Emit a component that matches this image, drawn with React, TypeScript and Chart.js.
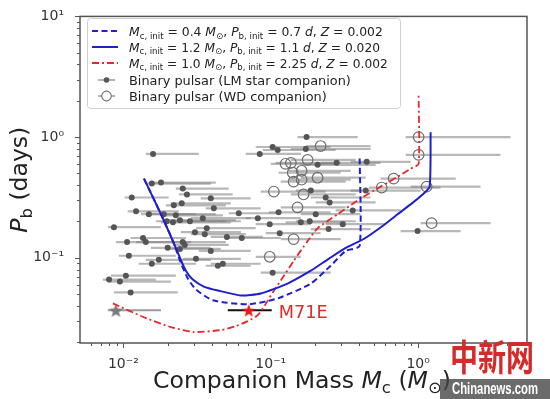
import React, { useEffect, useRef } from 'react';
import { Chart, registerables } from 'chart.js';
Chart.register(...registerables);

// Binary pulsars with low-mass (LM) star companions
const lmMass = [0.0159, 0.0156, 0.0180, 0.0253, 0.0270, 0.0114, 0.0392, 0.0220, 0.0249, 0.0411, 0.0122, 0.0149, 0.0188, 0.0227, 0.0607, 0.113, 0.0197, 0.0217, 0.0242, 0.0283, 0.0346, 0.0817, 0.0984, 0.00863, 0.0306, 0.0368, 0.0357, 0.0504, 0.0636, 0.115, 0.0106, 0.0136, 0.0142, 0.0253, 0.0261, 0.0200, 0.0242, 0.0392, 0.0109, 0.0174, 0.0311, 0.0156, 0.0438, 0.0473, 0.0104, 0.0080, 0.00947, 0.0112, 0.103, 0.175, 0.103, 0.1115, 0.173, 0.0842, 0.208, 0.280, 0.448, 0.187, 0.236, 0.251, 0.360, 0.202, 0.160, 0.184, 0.308, 0.247, 0.441, 0.992];
const lmPb = [0.726, 0.412, 0.420, 0.375, 0.335, 0.316, 0.311, 0.272, 0.283, 0.257, 0.243, 0.230, 0.230, 0.225, 0.234, 0.238, 0.201, 0.197, 0.205, 0.201, 0.213, 0.213, 0.190, 0.1795, 0.163, 0.176, 0.157, 0.149, 0.146, 0.160, 0.135, 0.146, 0.135, 0.135, 0.128, 0.121, 0.1185, 0.114, 0.104, 0.0963, 0.0981, 0.0893, 0.086, 0.0893, 0.0712, 0.066, 0.0636, 0.0517, 0.0753, 1.0, 0.828, 0.782, 0.797, 0.726, 0.590, 0.612, 0.624, 0.361, 0.316, 0.288, 0.247, 0.230, 0.197, 0.201, 0.190, 0.173, 0.361, 0.1665];
const lmMassLo = [0.0142, 0.0142, 0.0154, 0.0227, 0.0238, 0.0102, 0.0335, 0.0194, 0.0210, 0.0362, 0.0107, 0.0132, 0.0154, 0.0194, 0.0519, 0.0969, 0.0166, 0.0180, 0.0203, 0.0227, 0.0287, 0.0677, 0.0791, 0.00785, 0.0246, 0.0311, 0.0287, 0.0392, 0.0496, 0.0925, 0.0089, 0.0112, 0.0122, 0.0210, 0.0217, 0.0154, 0.0194, 0.0325, 0.00932, 0.0142, 0.0253, 0.0127, 0.0362, 0.0392, 0.00822, 0.00726, 0.00797, 0.00863, 0.0855, 0.152, 0.0791, 0.0883, 0.137, 0.0677, 0.160, 0.218, 0.349, 0.148, 0.187, 0.202, 0.276, 0.160, 0.126, 0.148, 0.236, 0.187, 0.349, 0.761];
const lmMassHi = [0.0325, 0.0392, 0.0424, 0.0519, 0.0552, 0.0203, 0.0731, 0.0496, 0.0536, 0.0855, 0.0238, 0.0311, 0.0424, 0.0473, 0.117, 0.255, 0.0496, 0.0536, 0.0579, 0.0627, 0.0731, 0.160, 0.187, 0.0180, 0.0627, 0.0791, 0.0677, 0.0883, 0.117, 0.218, 0.021, 0.0266, 0.0287, 0.0496, 0.0519, 0.0392, 0.0458, 0.0731, 0.0227, 0.0392, 0.0627, 0.0311, 0.0731, 0.0855, 0.0227, 0.0166, 0.021, 0.0234, 0.255, 0.389, 0.255, 0.276, 0.476, 0.160, 0.515, 0.557, 0.890, 0.407, 0.476, 0.515, 0.761, 0.407, 0.3225, 0.377, 0.602, 0.476, 1.04, 1.94];

// Binary pulsars with white-dwarf (WD) companions
const wdMass = [0.218, 0.126, 0.137, 0.178, 0.141, 0.162, 0.143, 0.162, 0.208, 0.105, 0.167, 0.152, 0.143, 0.0984, 1.008, 1.008, 0.682, 0.566, 1.142, 1.235];
const wdPb = [0.8435, 0.601, 0.612, 0.648, 0.507, 0.526, 0.428, 0.444, 0.461, 0.354, 0.335, 0.262, 0.143, 0.102, 1.0, 0.712, 0.453, 0.382, 0.389, 0.1936];
const wdMassLo = [0.173, 0.100, 0.108, 0.137, 0.113, 0.132, 0.117, 0.132, 0.160, 0.0855, 0.137, 0.117, 0.117, 0.0791, 0.823, 0.823, 0.557, 0.462, 0.890, 1.04];
const wdMassHi = [0.476, 0.276, 0.298, 0.377, 0.298, 0.349, 0.3225, 0.349, 0.441, 0.236, 0.377, 0.3225, 0.298, 0.160, 4.24, 3.62, 1.80, 1.42, 2.65, 3.1];

// Grey star and M71E
const greyStarMass = [0.0089];
const greyStarPb = [0.0368];
const greyStarLo = [0.00785];
const greyStarHi = [0.018];
const m71eMass = [0.0709];
const m71ePb = [0.0368];
const m71eLo = [0.0511];
const m71eHi = [0.1016];

// Evolutionary tracks
const track04Mass = [0.0138, 0.018, 0.02168, 0.02455, 0.0274, 0.03105, 0.0405, 0.0698, 0.1115, 0.187, 0.2552, 0.3225, 0.401, 0.401];
const track04Pb = [0.453, 0.2296, 0.1378, 0.091, 0.0673, 0.0547, 0.0445, 0.0412, 0.0461, 0.0612, 0.086, 0.1141, 0.1254, 0.712];
const track12Mass = [0.0138, 0.018, 0.02168, 0.02455, 0.02655, 0.02959, 0.03515, 0.0438, 0.0627, 0.0855, 0.130, 0.187, 0.2472, 0.3225, 0.4271, 0.5834, 0.726, 0.890, 1.073, 1.197, 1.216];
const track12Pb = [0.453, 0.2296, 0.1378, 0.0963, 0.0782, 0.066, 0.0578, 0.0536, 0.0488, 0.0507, 0.0612, 0.0782, 0.0981, 0.1208, 0.1432, 0.1864, 0.2296, 0.2772, 0.3346, 0.389, 1.099];
const track10Mass = [0.00849, 0.01377, 0.021, 0.030, 0.0458, 0.0579, 0.0698, 0.0817, 0.0911, 0.1032, 0.117, 0.1432, 0.178, 0.2083, 0.2846, 0.4074, 0.557, 0.726, 0.890, 1.008, 1.008];
const track10Pb = [0.042, 0.0322, 0.0267, 0.0243, 0.0252, 0.0272, 0.0299, 0.0335, 0.0404, 0.0517, 0.0648, 0.0945, 0.1378, 0.1762, 0.2296, 0.3105, 0.389, 0.470, 0.547, 0.601, 2.25];

// Ticks
const xMajorTicks = [0.01, 0.1, 1];
const xTickLabels = ['10⁻²', '10⁻¹', '10⁰'];
const xMinorTicks = [0.006, 0.007, 0.008, 0.009, 0.02, 0.03, 0.04, 0.05, 0.06, 0.07, 0.08, 0.09, 0.2, 0.3, 0.4, 0.5, 0.6, 0.7, 0.8, 0.9, 2, 3, 4, 5];
const yMajorTicks = [0.1, 1, 10];
const yTickLabels = ['10⁻¹', '10⁰', '10¹'];
const yMinorTicks = [0.02, 0.03, 0.04, 0.05, 0.06, 0.07, 0.08, 0.09, 0.2, 0.3, 0.4, 0.5, 0.6, 0.7, 0.8, 0.9, 2, 3, 4, 5, 6, 7, 8, 9];

const BLUE = '#1f1fcf';
const RED = '#e42a2a';
const FONT = '"DejaVu Sans", sans-serif';

type Seg = { t: string; it?: boolean; sub?: boolean };

function richWidth(ctx: CanvasRenderingContext2D, segs: Seg[], size: number) {
  let total = 0;
  segs.forEach((s) => {
    ctx.font = `${s.it ? 'italic ' : ''}${s.sub ? size * 0.7 : size}px ${FONT}`;
    total += ctx.measureText(s.t).width;
  });
  return total;
}

// Draws mixed italic/subscript text; the font size is chosen so the text spans `width` pixels.
function drawRich(ctx: CanvasRenderingContext2D, segs: Seg[], x: number, yBase: number, width: number, align: 'left' | 'center', color: string) {
  const size = (13 * width) / richWidth(ctx, segs, 13);
  let cx = align === 'center' ? x - width / 2 : x;
  ctx.fillStyle = color;
  ctx.textBaseline = 'alphabetic';
  ctx.textAlign = 'left';
  segs.forEach((s) => {
    ctx.font = `${s.it ? 'italic ' : ''}${s.sub ? size * 0.7 : size}px ${FONT}`;
    ctx.fillText(s.t, cx, yBase + (s.sub ? size * 0.22 : 0));
    cx += ctx.measureText(s.t).width;
  });
}

function makeStar(outer: number, fill: string): HTMLCanvasElement {
  const s = Math.ceil(outer * 2 + 2);
  const c = document.createElement('canvas');
  c.width = s; c.height = s;
  const g = c.getContext('2d')!;
  g.translate(s / 2, s / 2 + 0.8);
  g.beginPath();
  for (let k = 0; k < 10; k++) {
    const r = k % 2 === 0 ? outer : outer * 0.42;
    const a = -Math.PI / 2 + (k * Math.PI) / 5;
    g.lineTo(r * Math.cos(a), r * Math.sin(a));
  }
  g.closePath();
  g.fillStyle = fill;
  g.fill();
  return c;
}

const pts = (xs: number[], ys: number[]) => xs.map((x, i) => ({ x, y: ys[i] }));

const errorBarPlugin = {
  id: 'errbars',
  beforeDatasetsDraw(chart: any) {
    const { ctx, scales: { x, y }, chartArea } = chart;
    ctx.save();
    ctx.beginPath();
    ctx.rect(chartArea.left, chartArea.top, chartArea.width, chartArea.height);
    ctx.clip();
    chart.data.datasets.forEach((ds: any) => {
      if (!ds.errLo) return;
      ctx.strokeStyle = ds.errColor;
      ctx.lineWidth = ds.errWidth;
      ds.data.forEach((p: any, i: number) => {
        const py = y.getPixelForValue(p.y);
        ctx.beginPath();
        ctx.moveTo(x.getPixelForValue(ds.errLo[i]), py);
        ctx.lineTo(x.getPixelForValue(ds.errHi[i]), py);
        ctx.stroke();
      });
    });
    ctx.restore();
  },
};

const framePlugin = {
  id: 'frame',
  afterDatasetsDraw(chart: any) {
    const { ctx, scales: { x, y }, chartArea: a } = chart;
    ctx.save();
    ctx.strokeStyle = '#555';
    ctx.lineWidth = 1.5;
    ctx.strokeRect(a.left, a.top, a.right - a.left, a.bottom - a.top);
    ctx.lineWidth = 1;
    const tick = (isX: boolean, v: number, len: number) => {
      ctx.beginPath();
      if (isX) {
        const px = Math.round(x.getPixelForValue(v)) + 0.5;
        ctx.moveTo(px, a.bottom); ctx.lineTo(px, a.bottom + len);
      } else {
        const py = Math.round(y.getPixelForValue(v)) + 0.5;
        ctx.moveTo(a.left, py); ctx.lineTo(a.left - len, py);
      }
      ctx.stroke();
    };
    xMajorTicks.forEach((v) => tick(true, v, 5));
    xMinorTicks.forEach((v) => tick(true, v, 3));
    yMajorTicks.forEach((v) => tick(false, v, 5));
    yMinorTicks.forEach((v) => tick(false, v, 3));

    // Legend
    const lx = 87, ly = 18, lw = 313, lh = 90;
    ctx.fillStyle = 'rgba(255,255,255,0.85)';
    ctx.strokeStyle = '#cfcfcf';
    ctx.lineWidth = 1;
    ctx.beginPath();
    (ctx as any).roundRect(lx + 0.5, ly + 0.5, lw, lh, 3);
    ctx.fill();
    ctx.stroke();
    const rows = [31, 47, 63, 80, 96];
    const sx0 = 92, sx1 = 118;
    const line = (yy: number, color: string, dash: number[], w: number) => {
      ctx.save();
      ctx.strokeStyle = color; ctx.lineWidth = w; ctx.setLineDash(dash);
      ctx.beginPath(); ctx.moveTo(sx0, yy); ctx.lineTo(sx1, yy); ctx.stroke();
      ctx.restore();
    };
    line(rows[0], BLUE, [6, 3.5], 2);
    line(rows[1], BLUE, [], 2);
    line(rows[2], RED, [7, 3, 2, 3], 1.8);
    ctx.strokeStyle = 'rgba(130,130,130,0.8)';
    ctx.lineWidth = 1.5;
    ctx.beginPath(); ctx.moveTo(98, rows[3]); ctx.lineTo(115, rows[3]); ctx.stroke();
    ctx.fillStyle = '#555';
    ctx.beginPath(); ctx.arc(106.5, rows[3], 2.8, 0, Math.PI * 2); ctx.fill();
    ctx.strokeStyle = 'rgba(130,130,130,0.8)';
    ctx.beginPath(); ctx.moveTo(98, rows[4]); ctx.lineTo(115, rows[4]); ctx.stroke();
    ctx.strokeStyle = '#777'; ctx.lineWidth = 1.2;
    ctx.fillStyle = '#fff';
    ctx.beginPath(); ctx.arc(106.5, rows[4], 4.8, 0, Math.PI * 2); ctx.fill(); ctx.stroke();

    const tx = 129, col = '#222';
    const track = (m: string, p: string, z: string): Seg[] => [
      { t: 'M', it: true }, { t: 'c, init', sub: true }, { t: ' = ' + m + ' ' }, { t: 'M', it: true }, { t: '⊙', sub: true },
      { t: ', ' }, { t: 'P', it: true }, { t: 'b, init', sub: true }, { t: ' = ' + p + ' ' }, { t: 'd', it: true },
      { t: ', ' }, { t: 'Z', it: true }, { t: ' = ' + z },
    ];
    drawRich(ctx, track('0.4', '0.7', '0.002'), tx, rows[0] + 4.8, 254, 'left', col);
    drawRich(ctx, track('1.2', '1.1', '0.020'), tx, rows[1] + 4.8, 251, 'left', col);
    drawRich(ctx, track('1.0', '2.25', '0.002'), tx, rows[2] + 4.8, 259, 'left', col);
    drawRich(ctx, [{ t: 'Binary pulsar (LM star companion)' }], tx, rows[3] + 4.8, 222, 'left', col);
    drawRich(ctx, [{ t: 'Binary pulsar (WD companion)' }], tx, rows[4] + 4.8, 198, 'left', col);

    // M71E label
    const px = x.getPixelForValue(m71eMass[0]);
    const py = y.getPixelForValue(m71ePb[0]);
    drawRich(ctx, [{ t: 'M71E' }], px + 30, py + 8, 49, 'left', RED);
    ctx.restore();
  },
  afterDraw(chart: any) {
    const { ctx, chartArea: a } = chart;
    ctx.save();
    // Axis titles
    drawRich(ctx, [{ t: 'Companion Mass ' }, { t: 'M', it: true }, { t: 'c', sub: true }, { t: ' (' }, { t: 'M', it: true }, { t: '⊙', sub: true }, { t: ')' }],
      302, 388, 298, 'center', '#222');
    ctx.save();
    ctx.translate(27, (a.top + a.bottom) / 2);
    ctx.rotate(-Math.PI / 2);
    drawRich(ctx, [{ t: 'P', it: true }, { t: 'b', sub: true }, { t: ' (days)' }], 0, 0, 106, 'center', '#222');
    ctx.restore();

    // Watermark
    ctx.save();
    ctx.translate(492, 371);
    ctx.scale(1, 1.3);
    ctx.fillStyle = '#d42a2a';
    ctx.font = 'bold 28px "Noto Sans CJK SC", sans-serif';
    ctx.textAlign = 'center';
    ctx.textBaseline = 'alphabetic';
    ctx.fillText('中新网', 0, 0);
    ctx.restore();
    ctx.fillStyle = 'rgba(70,70,70,0.8)';
    ctx.fillRect(440, 379, 110, 20);
    ctx.save();
    ctx.fillStyle = '#fff';
    ctx.font = 'bold 16px "Liberation Sans", sans-serif';
    const w = ctx.measureText('Chinanews.com').width;
    ctx.translate(452, 390);
    ctx.scale(86 / w, 1);
    ctx.textAlign = 'left';
    ctx.textBaseline = 'middle';
    ctx.fillText('Chinanews.com', 0, 0);
    ctx.restore();
    ctx.restore();
  },
};

export default function App() {
  const ref = useRef<HTMLCanvasElement>(null);
  useEffect(() => {
    const greyStar = makeStar(7.5, '#7a7a7a');
    const redStar = makeStar(7, '#f01818');
    const chart = new Chart(ref.current!, {
      type: 'scatter',
      data: {
        datasets: [
          { label: 'M71E', data: pts(m71eMass, m71ePb), pointStyle: redStar as any, pointRadius: 7, order: 0,
            errLo: m71eLo, errHi: m71eHi, errColor: '#111', errWidth: 2 } as any,
          { label: 'track04', data: pts(track04Mass, track04Pb), showLine: true, borderColor: BLUE, borderWidth: 2, borderDash: [6, 3.5], pointRadius: 0, tension: 0.2, order: 1 } as any,
          { label: 'track12', data: pts(track12Mass, track12Pb), showLine: true, borderColor: BLUE, borderWidth: 2, pointRadius: 0, tension: 0.2, order: 1 } as any,
          { label: 'track10', data: pts(track10Mass, track10Pb), showLine: true, borderColor: RED, borderWidth: 1.8, borderDash: [7, 3, 2, 3], pointRadius: 0, tension: 0.2, order: 1 } as any,
          { label: 'grey star', data: pts(greyStarMass, greyStarPb), pointStyle: greyStar as any, pointRadius: 7, order: 2,
            errLo: greyStarLo, errHi: greyStarHi, errColor: 'rgba(120,120,120,0.75)', errWidth: 2 } as any,
          { label: 'WD', data: pts(wdMass, wdPb), pointStyle: 'circle', pointRadius: 5.3, backgroundColor: 'rgba(0,0,0,0)', borderColor: '#6e6e6e', borderWidth: 1.2, order: 3,
            errLo: wdMassLo, errHi: wdMassHi, errColor: 'rgba(125,125,125,0.55)', errWidth: 2.2 } as any,
          { label: 'LM', data: pts(lmMass, lmPb), pointStyle: 'circle', pointRadius: 3, backgroundColor: '#555', borderWidth: 0, order: 4,
            errLo: lmMassLo, errHi: lmMassHi, errColor: 'rgba(125,125,125,0.55)', errWidth: 2.2 } as any,
        ],
      },
      options: {
        responsive: false,
        animation: false,
        devicePixelRatio: 1,
        layout: { padding: { left: 0, top: 13, right: 23, bottom: 0 } },
        plugins: { legend: { display: false }, tooltip: { enabled: false } },
        scales: {
          x: {
            type: 'logarithmic', min: 0.00508, max: 5.48,
            grid: { display: false }, border: { display: false },
            afterBuildTicks: (s: any) => {
              s.ticks = [...xMajorTicks, ...xMinorTicks].sort((p, q) => p - q).map((v) => ({ value: v }));
            },
            afterFit: (s: any) => { s.height = 56; },
            ticks: {
              autoSkip: false, maxRotation: 0, minRotation: 0, padding: 5, color: '#333',
              font: { size: 14, family: 'DejaVu Sans' },
              callback: (v: any) => { const i = xMajorTicks.indexOf(Number(v)); return i >= 0 ? xTickLabels[i] : ''; },
            },
          },
          y: {
            type: 'logarithmic', min: 0.0197, max: 10,
            grid: { display: false }, border: { display: false },
            afterBuildTicks: (s: any) => {
              s.ticks = [...yMajorTicks, ...yMinorTicks].sort((p, q) => p - q).map((v) => ({ value: v }));
            },
            afterFit: (s: any) => { s.width = 80; },
            ticks: {
              autoSkip: false, padding: 8, color: '#333',
              font: { size: 14, family: 'DejaVu Sans' },
              callback: (v: any) => { const i = yMajorTicks.indexOf(Number(v)); return i >= 0 ? yTickLabels[i] : ''; },
            },
          },
        },
      } as any,
      plugins: [errorBarPlugin, framePlugin],
    });
    return () => chart.destroy();
  }, []);
  return (
    <div style={{ position: 'fixed', left: 0, top: 0, width: 550, height: 399, background: '#fff' }}>
      <canvas ref={ref} width={550} height={399} style={{ display: 'block', width: 550, height: 399 }} />
    </div>
  );
}
